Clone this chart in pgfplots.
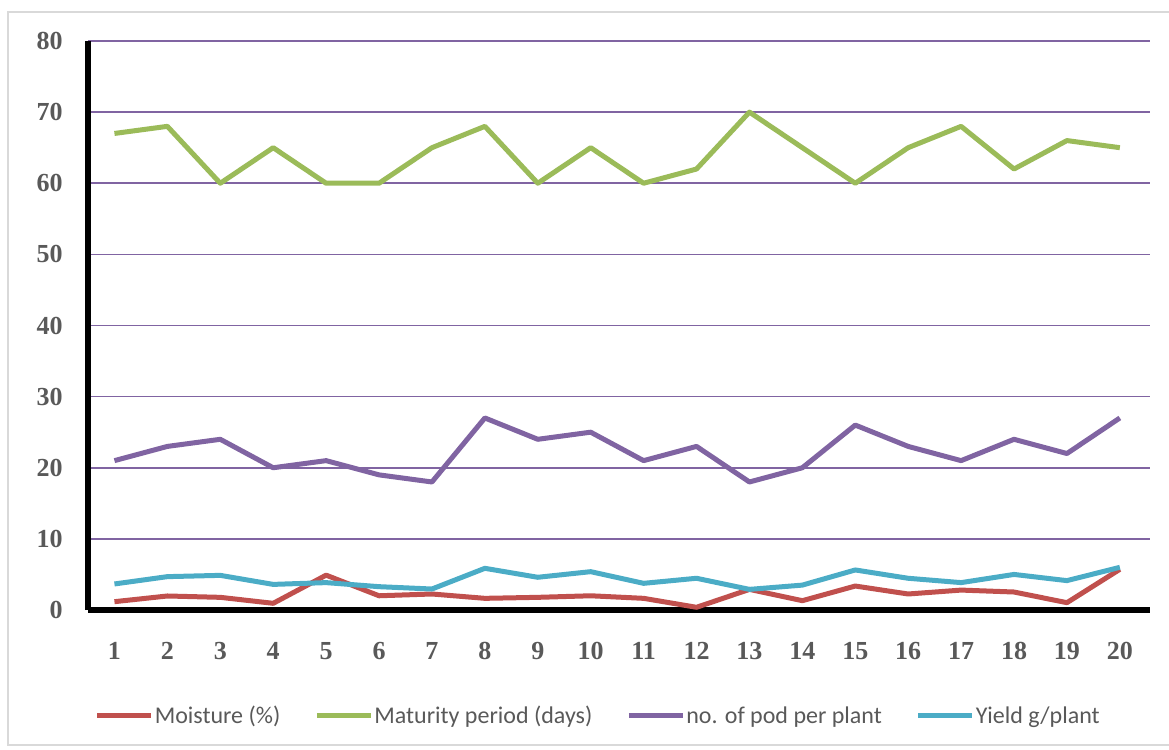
\documentclass[border=0pt]{standalone}
\usepackage{pgfplots}
\pgfplotsset{compat=1.18}
\usepackage{fontspec}
\setmainfont{Liberation Serif}
\newfontfamily\legendfont{Carlito}
\definecolor{cred}{HTML}{C0504D}
\definecolor{cgreen}{HTML}{9BBB59}
\definecolor{cpurple}{HTML}{8064A2}
\definecolor{ccyan}{HTML}{4BACC6}
\definecolor{textgray}{HTML}{595959}
\definecolor{framegray}{HTML}{D9D9D9}
\begin{document}
\begin{tikzpicture}
\useasboundingbox (0pt,0pt) rectangle (876.75pt,561.75pt);
\draw[framegray, line width=1.2pt] (890pt,552.75pt) -- (6pt,552.75pt) -- (6pt,3pt) -- (890pt,3pt);
\begin{axis}[
  at={(66pt,104.25pt)}, anchor=south west,
  width=796.5pt, height=426.75pt, scale only axis,
  xmin=0.5, xmax=20.57, ymin=0, ymax=80,
  axis lines*=left,
  axis line style={line width=4.5pt, black},
  xtick={1,...,20}, ytick={0,10,...,80},
  major tick length=0pt,
  ymajorgrids, grid style={cpurple, line width=1.2pt},
  /pgf/number format/assume math mode=true,
  tick label style={font=\fontsize{19.5}{22}\selectfont\bfseries, text=textgray},
  y tick label style={anchor=east, inner sep=0pt, xshift=-18.75pt},
  x tick label style={anchor=north, inner sep=0pt, yshift=-24pt},
  legend columns=4,
  legend cell align=left,
  legend style={at={(0.48,-0.186)}, anchor=center, draw=none, fill=none,
    font=\legendfont\fontsize{18}{21}\selectfont, text=textgray,
    nodes={inner sep=0.75pt},
    /tikz/every even column/.append style={column sep=24.75pt}},
  legend image code/.code={\draw[#1] (0pt,0pt) -- (40.5pt,0pt);},
  every axis plot/.append style={line width=3.75pt, line join=round},
]
\addplot[cred] coordinates {
(1,1.17) (2,1.97) (3,1.78) (4,0.94) (5,4.9) (6,2.0) (7,2.25) (8,1.64) (9,1.78) (10,2.0)
(11,1.64) (12,0.38) (13,2.9) (14,1.31) (15,3.37) (16,2.25) (17,2.8) (18,2.53) (19,1.03) (20,5.72)};
\addlegendentry{Moisture (\%)}
\addplot[cgreen] coordinates {
(1,67) (2,68) (3,60) (4,65) (5,60) (6,60) (7,65) (8,68) (9,60) (10,65)
(11,60) (12,62) (13,70) (14,65) (15,60) (16,65) (17,68) (18,62) (19,66) (20,65)};
\addlegendentry{Maturity period (days)}
\addplot[cpurple] coordinates {
(1,21) (2,23) (3,24) (4,20) (5,21) (6,19) (7,18) (8,27) (9,24) (10,25)
(11,21) (12,23) (13,18) (14,20) (15,26) (16,23) (17,21) (18,24) (19,22) (20,27)};
\addlegendentry{no. of pod per plant}
\addplot[ccyan] coordinates {
(1,3.66) (2,4.69) (3,4.87) (4,3.6) (5,3.85) (6,3.28) (7,2.95) (8,5.86) (9,4.6) (10,5.39)
(11,3.75) (12,4.46) (13,2.9) (14,3.5) (15,5.63) (16,4.46) (17,3.85) (18,5.0) (19,4.13) (20,6.0)};
\addlegendentry{Yield g/plant}
\end{axis}
\end{tikzpicture}
\end{document}
